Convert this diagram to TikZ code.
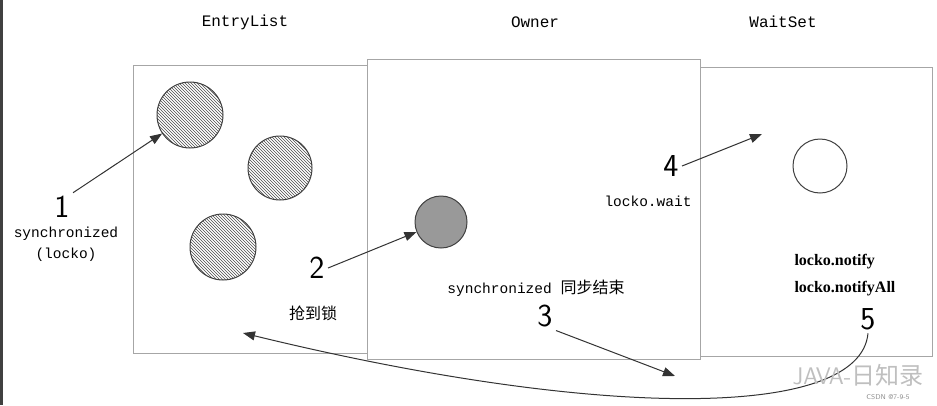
\documentclass[tikz,border=0pt]{standalone}
\usepackage{fontspec}
\setmonofont{Liberation Mono}
\setmainfont{Liberation Serif}
\newfontfamily\cjk{Noto Sans CJK SC}
\usetikzlibrary{patterns, arrows.meta}

\begin{document}
\begin{tikzpicture}[
        x=1pt, y=-1pt,
        panel/.style={draw=black!35, line width=1pt, fill=white},
        thread/.style={circle, draw=black!75, line width=1pt, inner sep=0pt},
        waiting/.style={thread, pattern=north west lines, pattern color=black!70},
        title/.style={font=\ttfamily\fontsize{16}{16}\selectfont},
        step num/.style={font=\sffamily\fontsize{32}{32}\selectfont},
        code/.style={font=\ttfamily\fontsize{14.5}{21}\selectfont, align=center},
        flow/.style={-{Triangle[length=12pt, width=9pt]}, line width=1pt, black!80}
    ]
        \useasboundingbox (0,0) rectangle (937,405);
        \fill[black!75] (0,0) rectangle (3,405);

        % the three areas
        \draw[panel] (133,65) rectangle (367,353);
        \draw[panel] (700,67) rectangle (932,356);
        \draw[panel] (367,59) rectangle (700,359);

        \node[title] (entry) at (245,22) {EntryList};
        \node[title] (owner) at (535,22) {Owner};
        \node[title] (wait) at (783,22) {WaitSet};

        % threads
        \node[waiting, minimum size=66pt] (t1) at (190,115) {};
        \node[waiting, minimum size=64pt] (t2) at (280,168) {};
        \node[waiting, minimum size=66pt] (t3) at (223,247) {};
        \node[thread, fill=black!40, minimum size=52pt] (t4) at (441,222) {};
        \node[thread, minimum size=54pt] (t5) at (820,166) {};

        % step labels
        \node[step num] (n1) at (62,207) {1};
        \node[code] (l1) at (66,244) {synchronized\\(locko)};
        \node[step num] (n2) at (317,268) {2};
        \node[font=\cjk\fontsize{16}{16}\selectfont] (l2) at (313,313) {抢到锁};
        \node[code] (l3) at (536,288) {synchronized {\cjk\fontsize{16}{16}\selectfont 同步结束}};
        \node[step num] (n3) at (545,316) {3};
        \node[step num] (n4) at (671,166) {4};
        \node[code] (l4) at (648,201) {locko.wait};
        \node[font=\bfseries\fontsize{16}{16}\selectfont, anchor=west] (l5a) at (791,262) {locko.notify};
        \node[font=\bfseries\fontsize{16}{16}\selectfont, anchor=west] (l5b) at (791,289) {locko.notifyAll};
        \node[step num] (n5) at (868,319) {5};

        \coordinate (c3) at (675,376);
        \coordinate (c4) at (762,134);
        \coordinate (c5) at (243,333);

        % transitions
        \draw[flow] (n1.north east) -- (t1);
        \draw[flow] (n2.east) -- (t4);
        \draw[flow] (n3.south east) -- (c3);
        \draw[flow] (n4.east) -- (c4);
        \draw[flow] (n5.south) .. controls (860,420) and (600,420) .. (c5);

        \node[text=black!25, font=\sffamily\fontsize{24}{24}\selectfont] (mark) at (858,375) {JAVA-{\cjk 日知录}};
        \node[text=black!45, font=\sffamily\fontsize{7}{7}\selectfont] (csdn) at (888,397) {CSDN @7-9-5};
    \end{tikzpicture}
\end{document}
